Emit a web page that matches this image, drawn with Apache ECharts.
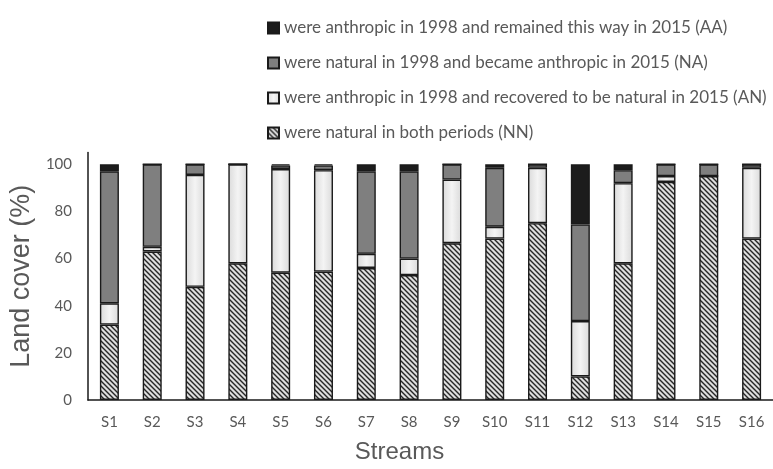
<!DOCTYPE html>
<html>
<head>
<meta charset="utf-8">
<script src="https://cdn.jsdelivr.net/npm/echarts@6/dist/echarts.min.js"></script>
<style>
  html, body { margin: 0; padding: 0; background: #fff; }
  #main { width: 773px; height: 469px; }
</style>
</head>
<body>
<div id="main"></div>
<script>
// data (% of land cover per stream)
var streams = ['S1','S2','S3','S4','S5','S6','S7','S8','S9','S10','S11','S12','S13','S14','S15','S16'];
var nnValues = [32, 63, 48, 58, 54, 54.5, 56, 53, 66.5, 68.5, 75, 10, 58, 92.5, 95, 68.5];
var anValues = [9, 2, 47.5, 42, 44, 43, 6, 7, 27, 5, 23.5, 23.5, 34, 2.5, 0, 30];
var naValues = [56, 35, 4.5, 0, 1.5, 2, 35, 37, 6.5, 25, 1.5, 41, 5.5, 5, 5, 1.5];
var aaValues = [3, 0, 0, 0, 0.5, 0.5, 3, 3, 0, 1.5, 0, 25.5, 2.5, 0, 0, 0];
var yTicks = [0, 20, 40, 60, 80, 100];

var nameAA = 'were anthropic in 1998 and remained this way in 2015 (AA)';
var nameNA = 'were natural in 1998 and became anthropic in 2015 (NA)';
var nameAN = 'were anthropic in 1998 and recovered to be natural in 2015 (AN)';
var nameNN = 'were natural in both periods (NN)';

// hatch pattern for NN
var hatch = document.createElement('canvas');
hatch.width = 5; hatch.height = 5;
var hc = hatch.getContext('2d');
hc.fillStyle = '#dedede';
hc.fillRect(0, 0, 5, 5);
hc.strokeStyle = '#262626';
hc.lineWidth = 1.4;
hc.beginPath();
hc.moveTo(-1, -1); hc.lineTo(6, 6);
hc.moveTo(-1, 4); hc.lineTo(1, 6);
hc.moveTo(4, -1); hc.lineTo(6, 1);
hc.stroke();

// light fill for AN, a bit brighter in the middle
var anFill = new echarts.graphic.LinearGradient(0, 0, 1, 0, [
  { offset: 0, color: '#dadada' },
  { offset: 0.5, color: '#f4f4f4' },
  { offset: 1, color: '#dadada' }
]);

var txt = '#595959';
var font = 'Lato, "Open Sans", sans-serif';
var titleFont = '"Liberation Sans", Arial, sans-serif';

var chart = echarts.init(document.getElementById('main'));

function bar(name, data, color) {
  return {
    name: name,
    type: 'bar',
    stack: 'total',
    barWidth: 19,
    data: data,
    itemStyle: { color: color, borderColor: '#1a1a1a', borderWidth: 1.4 },
    emphasis: { disabled: true }
  };
}

var option = {
  animation: false,
  textStyle: { fontFamily: font },
  legend: {
    orient: 'vertical',
    left: 262,
    top: 14,
    itemWidth: 11,
    itemHeight: 11,
    itemGap: 17,
    icon: 'rect',
    textStyle: { color: txt, fontSize: 17, lineHeight: 18, fontFamily: font },
    data: [nameAA, nameNA, nameAN, nameNN]
  },
  grid: { left: 88, top: 152.5, bottom: 64, width: 693, containLabel: false },
  xAxis: {
    type: 'category',
    data: streams,
    name: 'Streams',
    nameLocation: 'middle',
    nameGap: 40,
    nameTextStyle: { color: txt, fontSize: 24, padding: [0, 62, 0, 0], fontFamily: titleFont },
    axisLine: { lineStyle: { color: '#1a1a1a', width: 1.5 } },
    axisTick: { show: false },
    axisLabel: { color: txt, fontSize: 15, margin: 15 }
  },
  yAxis: {
    type: 'value',
    min: 0,
    max: 105,
    interval: 20,
    name: 'Land cover (%)',
    nameLocation: 'middle',
    nameGap: 51,
    nameTextStyle: { color: txt, fontSize: 27, fontFamily: titleFont },
    axisLine: { show: true, lineStyle: { color: '#1a1a1a', width: 1.5 } },
    axisTick: { show: false },
    splitLine: { show: false },
    axisLabel: {
      color: txt, fontSize: 15, margin: 16, showMaxLabel: false,
      formatter: function (v) { return yTicks.indexOf(v) >= 0 ? String(v) : ''; }
    }
  },
  series: [
    bar(nameNN, nnValues, { image: hatch, repeat: 'repeat' }),
    bar(nameAN, anValues, anFill),
    bar(nameNA, naValues, '#7f7f7f'),
    bar(nameAA, aaValues, '#1c1c1c')
  ]
};

chart.setOption(option);
</script>
</body>
</html>
